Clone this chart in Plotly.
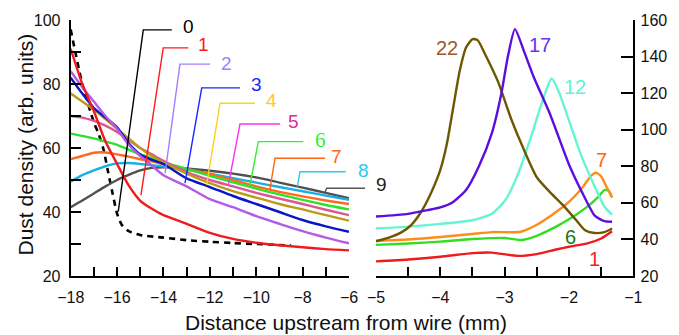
import plotly.graph_objects as go

# ---------------- data: left panel (distance -18..-6 mm) ----------------
x_left = [-18, -17.5, -17, -16.5, -16, -15.5, -15, -14.5, -14, -13, -12, -11, -10, -9, -8, -7, -6]
y_c1 = [91, 80, 71.5, 62, 55, 48.3, 43.5, 41, 39, 36.3, 33.5, 31.6, 30.4, 29.6, 29, 28.4, 28]
y_c2 = [84, 79, 74.5, 70, 66, 61, 57.5, 54.5, 51.5, 48, 44, 41.5, 38.7, 36.3, 34, 32, 30.2]
y_c3 = [82, 77, 72.5, 69.5, 66.5, 61.5, 58, 56.3, 55, 50.5, 47.8, 45, 42.5, 40, 37.5, 35.5, 33.8]
y_c4 = [77, 74.5, 72, 69, 66, 63, 60, 57.5, 55.5, 52, 49, 46.5, 44.5, 42.5, 40.8, 39, 37.3]
y_c5 = [70, 69.5, 68.5, 67, 65, 62.5, 60, 58, 56, 52.5, 50, 48, 46, 44.2, 42.5, 40.7, 39]
y_c6 = [64.5, 63.8, 63, 62, 61, 59.5, 58, 56.8, 55.5, 53.5, 51.3, 49.3, 47.3, 45.5, 43.8, 42.2, 40.8]
y_c7 = [56.5, 57.5, 58.5, 58.6, 58, 57.3, 56.5, 55.8, 55, 53.5, 51.8, 50, 48, 46.3, 44.9, 43.6, 42.5]
y_c8 = [49.5, 51.5, 53, 54.3, 55.2, 55.3, 55, 54.6, 54.2, 53.2, 52, 50.6, 49.2, 47.8, 46.5, 45.1, 43.8]
y_c9 = [41.5, 43.6, 45.8, 48, 50, 51.6, 53, 53.8, 54, 53.6, 52.9, 52, 50.8, 49.2, 47.6, 46, 44.3]

x_c0 = [-18, -17.5, -17, -16.8, -16.6, -16.4, -16.2, -16.0, -15.8, -15.5, -15, -14, -13, -12, -11, -10, -9, -8.5]
y_c0 = [97, 80, 68, 64.5, 60, 53, 46, 39.5, 36, 34, 32.8, 32, 31.2, 30.7, 30.3, 30, 29.7, 29.5]

left_names = ["0", "1", "2", "3", "4", "5", "6", "7", "8", "9"]
# leader lines: point at curve, corner, end of horizontal; then label position
lead_x0 = [-15.95, -14.97, -13.93, -13.07, -12.14, -11.20, -10.27, -9.41, -8.23, -7.03]
lead_y0 = [40.1, 45.3, 52.1, 49.0, 48.4, 48.4, 48.4, 47.1, 47.9, 46.3]
lead_xc = [-14.87, -14.01, -13.29, -12.35, -11.56, -10.70, -9.91, -9.19, -8.11, -6.96]
lead_yc = [96.9, 91.3, 86.2, 78.8, 74.0, 67.5, 62.0, 56.8, 52.6, 47.4]
lead_xe = [-13.64, -12.93, -11.99, -10.70, -10.05, -8.97, -7.97, -7.03, -6.14, -5.31]
lab_x = [-12.93, -12.28, -11.27, -9.98, -9.33, -8.40, -7.25, -6.53, -5.38, -4.62]
lab_y = [97.9, 92.2, 86.5, 79.7, 75.0, 68.2, 62.5, 57.3, 53.1, 48.6]

# ---------------- data: right panel (distance -5..-1 mm) ----------------
x_r1 = [-5, -4.5, -4, -3.5, -3.2, -2.8, -2.5, -2.2, -2, -1.7, -1.5, -1.33]
y_r1 = [28, 29, 30.5, 32.5, 32.8, 31, 32, 34.5, 36, 38, 40.5, 44.5]
x_r6 = [-5, -4.5, -4, -3.5, -3, -2.75, -2.5, -2.2, -2, -1.75, -1.55, -1.45, -1.38, -1.33]
y_r6 = [37, 37.8, 38.8, 40.2, 40.8, 39.7, 42, 47, 51, 57, 63, 67, 66.5, 63]
x_r7 = [-5, -4.5, -4, -3.5, -3.2, -2.75, -2.5, -2.2, -2, -1.8, -1.65, -1.58, -1.5, -1.42, -1.33]
y_r7 = [39.3, 40, 41.3, 43, 44, 44.2, 48, 55, 60.5, 68, 75, 76.5, 74.5, 69, 63]
x_r12 = [-5, -4.5, -4, -3.5, -3.2, -3.0, -2.8, -2.6, -2.4, -2.27, -2.15, -2.0, -1.8, -1.6, -1.45, -1.33]
y_r12 = [46, 47, 48.5, 50.5, 54, 61, 75, 95, 117, 128, 120, 105, 85, 69, 58, 53.5]
x_r17 = [-5, -4.5, -4.2, -4, -3.8, -3.6, -3.4, -3.2, -3.05, -2.95, -2.84, -2.7, -2.55, -2.3, -2.0, -1.8, -1.6, -1.45, -1.33]
y_r17 = [52.5, 54, 56, 57.5, 60.5, 67, 80, 98, 120, 140, 155, 143, 129, 109, 81, 66, 53, 50, 49.7]
x_r22 = [-5, -4.8, -4.6, -4.45, -4.3, -4.15, -4.0, -3.9, -3.8, -3.7, -3.6, -3.5, -3.42, -3.3, -3.1, -2.9, -2.7, -2.5, -2.3, -2.1, -1.9, -1.75, -1.6, -1.45, -1.33]
y_r22 = [39, 41, 44, 48, 55, 65, 78, 92, 112, 132, 145, 149.5, 149, 141, 126, 106, 89, 74, 66, 59, 51, 45, 43.5, 44, 46]

right_names = ["22", "17", "12", "7", "6", "1"]
rlab_x = [-3.90, -2.45, -1.907, -1.49, -1.984, -1.596]
rlab_y = [144.5, 146.3, 123.2, 83.4, 41.5, 29.1]

# ---------------- layout geometry ----------------
VW, VH = 679, 335          # browser window
OFF = 8                    # default page margin around the plot div
W, H = VW - OFF, VH - OFF  # figure size


def fx(px):  # window pixel -> paper x
    return (px - OFF) / W


def fy(py):  # window pixel -> paper y
    return (H - (py - OFF)) / H


left_dom = [fx(70.7), fx(349.0)]
right_dom = [fx(376.0), fx(633.3)]
y_dom = [fy(276.0), fy(20.0)]
LEFT_RANGE = [-18, -6]
span = (LEFT_RANGE[1] - LEFT_RANGE[0]) / (left_dom[1] - left_dom[0])
x3_range = [LEFT_RANGE[0] - left_dom[0] * span, LEFT_RANGE[1] + (1 - left_dom[1]) * span]

curve_cols = ["#000000", "#ee1c1c", "#b45ae6", "#0a14c8", "#bb9a14", "#dd5592",
              "#2ee02e", "#ff6a1a", "#19aee6", "#505050"]
label_cols = ["#000000", "#ff1a1a", "#a47cff", "#1428ff", "#ffc81e", "#e02896",
              "#33ee33", "#ff6414", "#28c8f0", "#222222"]
leader_cols = ["#000000", "#ff1a1a", "#a47cff", "#1428ff", "#ffd21e", "#ff33ee",
               "#33ee33", "#ff6414", "#28c8f0", "#555555"]
right_cols = {"1": "#ee1c1c", "6": "#33dd22", "7": "#ff8c1a", "12": "#66f5d2",
              "17": "#5c0ee0", "22": "#6b5800"}
right_lab_cols = ["#a0582a", "#6633ee", "#5ef5cc", "#ff6414", "#127a12", "#ff2020"]

FONT = "Liberation Sans, Arial, sans-serif"
fig = go.Figure()

fig.add_trace(go.Scatter(x=x_c0, y=y_c0, mode="lines",
                         line=dict(color="black", width=2.6, dash="6px,5px", shape="spline", smoothing=0.6)))
left_series = [y_c9, y_c8, y_c7, y_c6, y_c5, y_c4, y_c3, y_c2, y_c1]
left_idx = [9, 8, 7, 6, 5, 4, 3, 2, 1]
for ys, i in zip(left_series, left_idx):
    fig.add_trace(go.Scatter(x=x_left, y=ys, mode="lines",
                             line=dict(color=curve_cols[i], width=2.4, shape="spline", smoothing=0.6)))

for i in range(len(left_names)):
    fig.add_trace(go.Scatter(x=[lead_x0[i], lead_xc[i], lead_xe[i]],
                             y=[lead_y0[i], lead_yc[i], lead_yc[i]],
                             xaxis="x3", yaxis="y", mode="lines",
                             line=dict(color=leader_cols[i], width=1.4)))

for name, xs, ys in [("1", x_r1, y_r1), ("6", x_r6, y_r6), ("7", x_r7, y_r7),
                     ("12", x_r12, y_r12), ("22", x_r22, y_r22), ("17", x_r17, y_r17)]:
    fig.add_trace(go.Scatter(x=xs, y=ys, mode="lines", xaxis="x2", yaxis="y2",
                             line=dict(color=right_cols[name], width=2.4, shape="spline", smoothing=0.6)))

annotations = []
for i, n in enumerate(left_names):
    fam = "Liberation Serif, Times New Roman, serif" if n == "6" else FONT
    annotations.append(dict(x=lab_x[i], y=lab_y[i], xref="x3", yref="y", text=n, showarrow=False,
                            font=dict(family=fam, size=19 if n != "6" else 21, color=label_cols[i]),
                            xanchor="center", yanchor="middle"))
for i, n in enumerate(right_names):
    annotations.append(dict(x=rlab_x[i], y=rlab_y[i], xref="x2", yref="y2", text=n, showarrow=False,
                            font=dict(family=FONT, size=20, color=right_lab_cols[i]),
                            xanchor="center", yanchor="middle"))
annotations.append(dict(x=fx(345.5), y=fy(322.0), xref="paper", yref="paper",
                        text="Distance upstream from wire (mm)", showarrow=False,
                        font=dict(family=FONT, size=21, color="#111"), xanchor="center", yanchor="middle"))
annotations.append(dict(x=fx(25.0), y=fy(144.5), xref="paper", yref="paper",
                        text="Dust density (arb. units)", showarrow=False, textangle=-90,
                        font=dict(family=FONT, size=21, color="#111"), xanchor="center", yanchor="middle"))

tickfont = dict(family=FONT, size=16, color="#111")
common = dict(showline=True, linecolor="black", linewidth=2, ticks="inside", tickcolor="black",
              tickwidth=2, showgrid=False, zeroline=False, tickfont=tickfont, automargin=False)

fig.update_layout(
    template="none",
    width=W, height=H,
    margin=dict(l=0, r=0, t=0, b=0, pad=0),
    paper_bgcolor="white", plot_bgcolor="rgba(0,0,0,0)",
    showlegend=False,
    annotations=annotations,
    xaxis=dict(domain=left_dom, range=LEFT_RANGE, anchor="y", dtick=2, tick0=-18, ticklen=9,
               ticklabelstandoff=6,
               minor=dict(dtick=1, tick0=-18, ticks="inside", ticklen=9, tickwidth=2, tickcolor="black"),
               **common),
    yaxis=dict(domain=y_dom, range=[20, 100], anchor="x", dtick=20, tick0=20, ticklen=10,
               ticklabelstandoff=5,
               minor=dict(dtick=10, tick0=20, ticks="inside", ticklen=10, tickwidth=2, tickcolor="black"),
               **common),
    xaxis2=dict(domain=right_dom, range=[-5, -1], anchor="y2", dtick=1, tick0=-5, ticklen=9,
                ticklabelstandoff=6,
                minor=dict(dtick=0.5, tick0=-5, ticks="inside", ticklen=9, tickwidth=2, tickcolor="black"),
                **common),
    yaxis2=dict(domain=y_dom, range=[20, 160], anchor="x2", side="right", dtick=20, tick0=20,
                ticklen=12, ticklabelstandoff=2, **common),
    xaxis3=dict(domain=[0, 1], range=x3_range, anchor="y", visible=False),
)
fig.write_html("out.html")
